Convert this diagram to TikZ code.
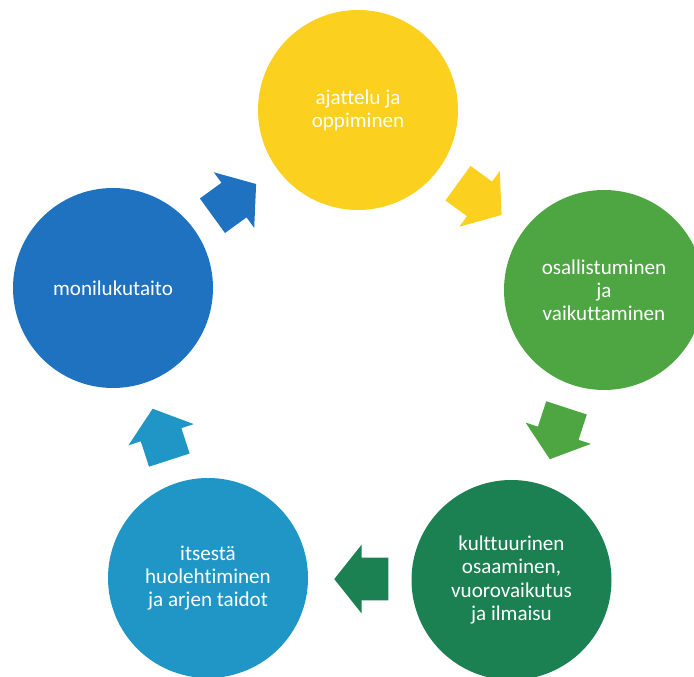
\documentclass[tikz,border=0pt]{standalone}
\usepackage{fontspec}
\setmainfont{Carlito}[Ligatures={NoCommon}]
\usetikzlibrary{shapes.arrows,calc}

\definecolor{yellowarea}{RGB}{252,208,30}
\definecolor{greenarea}{RGB}{78,166,66}
\definecolor{darkgreenarea}{RGB}{27,128,82}
\definecolor{tealarea}{RGB}{32,150,199}
\definecolor{bluearea}{RGB}{31,114,192}

\begin{document}
\begin{tikzpicture}
  [area/.style={circle,minimum size=4cm,inner sep=0pt,text=white,align=center,
     font=\fontsize{12}{13.1}\selectfont},
   turn/.style={single arrow,minimum height=1.08cm,inner xsep=0pt,inner ysep=0.42cm,
     single arrow head extend=0.26cm,single arrow tip angle=103}]

  \useasboundingbox (0,0) rectangle (13.88,13.54);
  \clip (0,0) rectangle (13.88,13.54);

  % Circles
  \node [area,fill=yellowarea]    (ajattelu)       at (7.16,11.34) {ajattelu ja\\oppiminen};
  \node [area,fill=greenarea]     (osallistuminen) at (12.08,7.74) {osallistuminen\\ja\\vaikuttaminen};
  \node [area,fill=darkgreenarea] (kulttuuri)      at (10.23,1.94) {kulttuurinen\\osaaminen,\\vuorovaikutus\\ja ilmaisu};
  \node [area,fill=tealarea]      (itsesta)        at (4.16,1.98)  {itsestä\\huolehtiminen\\ja arjen taidot};
  \node [area,fill=bluearea]      (monilukutaito)  at (2.26,7.78)  {monilukutaito};

  % Arrows between the circles
  \node [turn,fill=yellowarea,rotate=-36]    (a1) at ($(ajattelu)!0.5!(osallistuminen)!0.2cm!(ajattelu)$)   {};
  \node [turn,fill=greenarea,rotate=-108]    (a2) at ($(osallistuminen)!0.5!(kulttuuri)!0.2cm!(osallistuminen)$) {};
  \node [turn,fill=darkgreenarea,rotate=180] (a3) at ($(kulttuuri)!0.5!(itsesta)!0.2cm!(kulttuuri)$)     {};
  \node [turn,fill=tealarea,rotate=108]      (a4) at ($(itsesta)!0.5!(monilukutaito)!0.2cm!(itsesta)$)   {};
  \node [turn,fill=bluearea,rotate=36]       (a5) at ($(monilukutaito)!0.5!(ajattelu)!0.2cm!(monilukutaito)$) {};
\end{tikzpicture}
\end{document}
